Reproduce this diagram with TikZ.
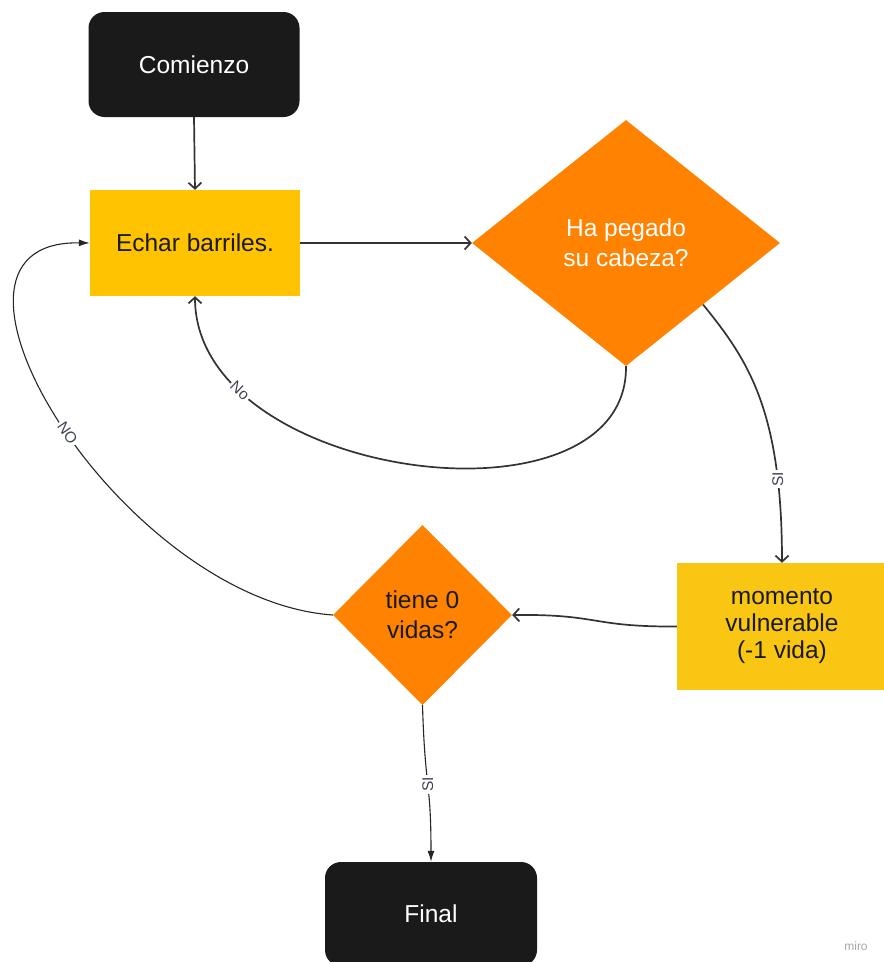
\documentclass[tikz,border=0pt]{standalone}
\usepackage{fontspec}
\setmainfont{Liberation Sans}
\usetikzlibrary{shapes.geometric,arrows.meta}
\definecolor{boxyellow}{HTML}{FFC301}
\definecolor{boxyellowb}{HTML}{FAC614}
\definecolor{dorange}{HTML}{FF8200}
\definecolor{termblack}{HTML}{1A1A1A}
\definecolor{linegray}{HTML}{333333}
\definecolor{labelgray}{HTML}{3E4356}
\definecolor{mirogray}{HTML}{A8A8A8}
\begin{document}
\begin{tikzpicture}[x=1pt,y=-1pt,
  every node/.style={align=center},
  boxfont/.style={font=\fontsize{24.5}{30}\selectfont},
  terminal/.style={boxfont, fill=termblack, rounded corners=16pt, text=white,
    minimum width=211pt, minimum height=105pt, inner sep=0pt},
  processbox/.style={boxfont, fill=boxyellow, text=termblack,
    minimum width=210pt, minimum height=106pt, inner sep=0pt},
  decision/.style={boxfont, diamond, fill=dorange, inner sep=0pt},
  conn/.style={draw=linegray, line width=1.7pt, -{Straight Barb[length=6pt,width=13pt]}},
  thinconn/.style={draw=black!85, line width=1.1pt, -{Latex[length=11pt,width=7pt]}},
  lbl/.style={font=\fontsize{15.5}{15.5}\selectfont, text=labelgray, fill=white, inner sep=2pt}
]
\useasboundingbox[fill=white] (0,0) rectangle (884,962);

\node[terminal] (com) at (194,64.5) {Comienzo};
\node[processbox] (echar) at (195,243) {Echar barriles.};
\node[decision, text=white, minimum width=308pt, minimum height=246pt] (d1) at (626,243) {Ha pegado\\su cabeza?};
\node[processbox, fill=boxyellowb, minimum height=127pt, font=\fontsize{24.5}{27}\selectfont] (mom) at (782,626.5) {momento\\vulnerable\\(-1 vida)};
\node[decision, text=termblack, minimum width=179pt, minimum height=180pt] (d2) at (422.5,615) {tiene 0\\vidas?};
\node[terminal, minimum width=212pt, minimum height=104pt] (fin) at (431,914) {Final};
\node[font=\fontsize{12}{12}\selectfont, text=mirogray] (miro) at (856,946) {miro};

\draw[conn] (com.south) -- (echar.north);
\draw[conn] (echar.east) -- (d1.west);
\draw[conn] (d1.south) .. controls +(2,170) and +(0,185) .. node[lbl, pos=0.8, sloped] {No} (echar.south);
\draw[conn] (d1.south east) .. controls (748,360) and (782,410) .. node[lbl, pos=0.79, rotate=90] {SI} (mom.north);
\draw[conn] (mom.west) .. controls (590,627) and (600,614) .. (d2.east);
\draw[thinconn] (d2.west) .. controls (120,600) and (-100,240) .. node[lbl, pos=0.48, sloped] {NO} (echar.west);
\draw[thinconn] (d2.south) .. controls (425,790) and (431,780) .. node[lbl, pos=0.5, rotate=90] {SI} (fin.north);
\end{tikzpicture}
\end{document}
